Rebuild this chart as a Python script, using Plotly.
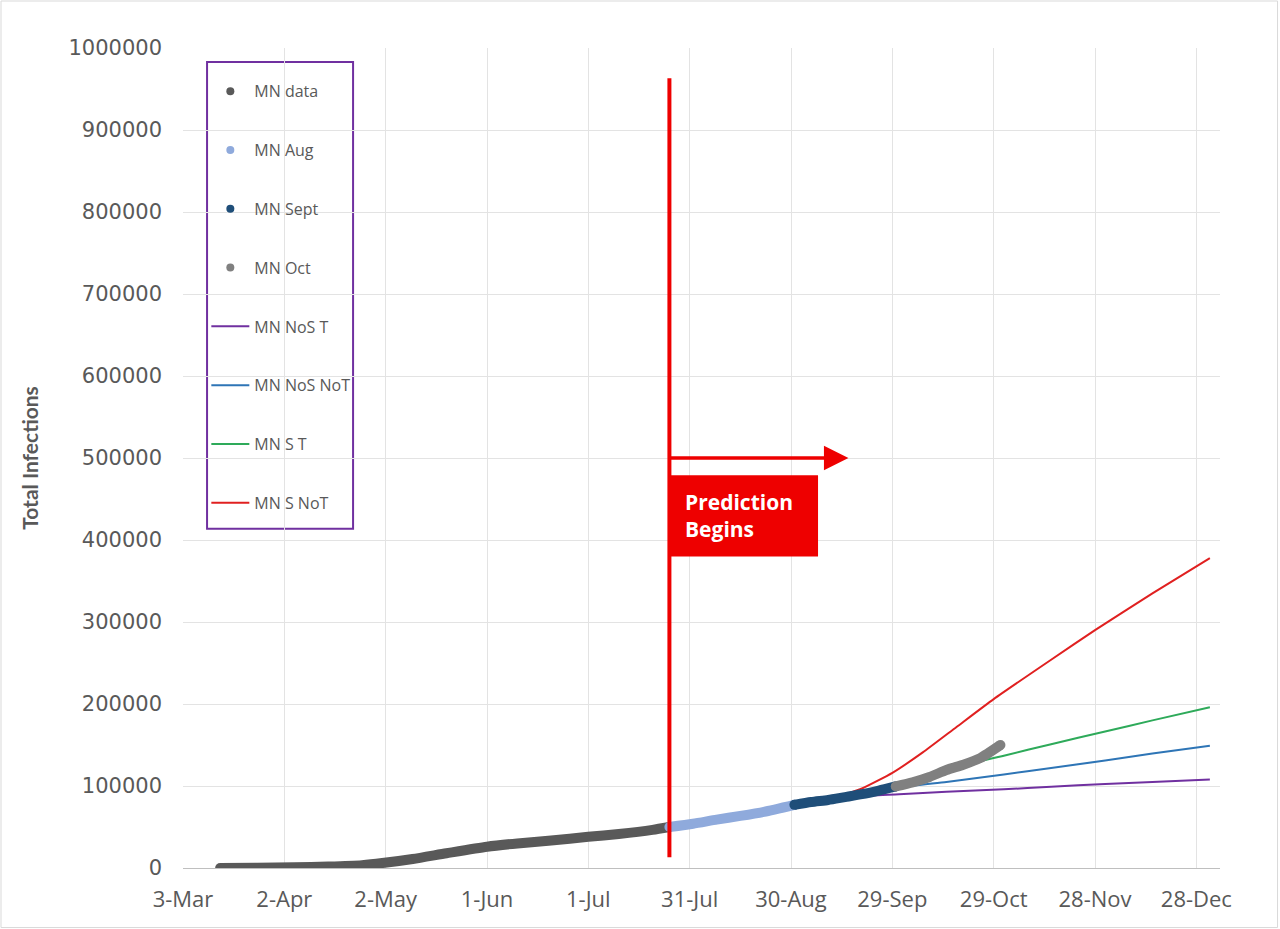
import plotly.graph_objects as go

# ---------------- data ----------------
data_dates = ["2020-03-14", "2020-03-25", "2020-04-05", "2020-04-15", "2020-04-25", "2020-05-01",
              "2020-05-10", "2020-05-20", "2020-06-01", "2020-06-10", "2020-06-20", "2020-07-01",
              "2020-07-10", "2020-07-20", "2020-07-25"]
data_vals = [0, 300, 800, 1800, 3500, 6000, 11000, 18000, 26000, 30000, 33500, 38000, 41500, 46500, 50000]

aug_dates = ["2020-07-25", "2020-08-01", "2020-08-08", "2020-08-15", "2020-08-22", "2020-08-31"]
aug_vals = [50000, 54000, 59000, 63500, 68500, 77000]

sept_dates = ["2020-08-31", "2020-09-05", "2020-09-10", "2020-09-15", "2020-09-20", "2020-09-25", "2020-09-30"]
sept_vals = [77000, 80500, 83000, 86500, 90000, 94500, 99500]

oct_dates = ["2020-09-30", "2020-10-05", "2020-10-10", "2020-10-15", "2020-10-20", "2020-10-25", "2020-10-31"]
oct_vals = [99500, 104500, 111000, 119500, 126000, 134000, 150000]

nos_t_dates = ["2020-07-25", "2020-08-15", "2020-08-31", "2020-09-10", "2020-09-20", "2020-10-01",
               "2020-10-15", "2020-11-01", "2020-11-15", "2020-12-01", "2020-12-15", "2021-01-01"]
nos_t_vals = [50000, 63500, 77000, 83000, 88000, 90000, 93000, 96000, 99000, 102500, 105000, 108000]

nos_not_dates = ["2020-07-25", "2020-08-15", "2020-08-31", "2020-09-10", "2020-09-20", "2020-10-01",
                 "2020-10-15", "2020-11-01", "2020-11-15", "2020-12-01", "2020-12-15", "2021-01-01"]
nos_not_vals = [50000, 63500, 77000, 83000, 90000, 98000, 105000, 114000, 122000, 131000, 139500, 149000]

s_t_dates = ["2020-07-25", "2020-08-15", "2020-08-31", "2020-09-10", "2020-09-20", "2020-10-01",
             "2020-10-15", "2020-10-25", "2020-11-01", "2020-11-15", "2020-12-01", "2020-12-15", "2021-01-01"]
s_t_vals = [50000, 63500, 77000, 83000, 90500, 100500, 117000, 130000, 137000, 151000, 166500, 180000, 196000]

s_not_dates = ["2020-07-25", "2020-08-15", "2020-08-31", "2020-09-10", "2020-09-20", "2020-09-29",
               "2020-10-08", "2020-10-18", "2020-10-29", "2020-11-15", "2020-11-28", "2020-12-15", "2021-01-01"]
s_not_vals = [50000, 63500, 77000, 83500, 97000, 116000, 141000, 172000, 206000, 254000, 290000, 335000, 378000]

tick_start = "2020-03-03"
x_range = ["2020-03-03", "2021-01-04"]
y_range = [0, 1000000]

prediction_date = "2020-07-25"
arrow_end_date = "2020-09-16"
box_end_date = "2020-09-07"

# ---------------- styles ----------------
TXT = "#595959"
RED = "#EE0000"
C_DATA = "#595959"
C_AUG = "#8FAADC"
C_SEPT = "#1F4E79"
C_OCT = "#808080"
C_NOST = "#7030A0"
C_NOSNOT = "#2E75B6"
C_ST = "#2EAA5A"
C_SNOT = "#E02020"

fig = go.Figure()

# model lines (drawn under data)
models = [
    ("MN NoS T", nos_t_dates, nos_t_vals, C_NOST, 5),
    ("MN NoS NoT", nos_not_dates, nos_not_vals, C_NOSNOT, 6),
    ("MN S T", s_t_dates, s_t_vals, C_ST, 7),
    ("MN S NoT", s_not_dates, s_not_vals, C_SNOT, 8),
]
for name, xs, ys, col, rank in models:
    fig.add_trace(go.Scatter(x=xs, y=ys, mode="lines", name=name,
                             line=dict(color=col, width=2, shape="spline", smoothing=0.5),
                             legendgroup=name, legendrank=rank, showlegend=True))

# observed data as thick lines
obs = [
    ("MN data", data_dates, data_vals, C_DATA, 1),
    ("MN Aug", aug_dates, aug_vals, C_AUG, 2),
    ("MN Sept", sept_dates, sept_vals, C_SEPT, 3),
    ("MN Oct", oct_dates, oct_vals, C_OCT, 4),
]
for name, xs, ys, col, rank in obs:
    fig.add_trace(go.Scatter(x=xs, y=ys, mode="lines", name=name,
                             line=dict(color=col, width=10, shape="spline", smoothing=0.6),
                             legendgroup=name, showlegend=False, hoverinfo="x+y"))
    # rounded ends
    fig.add_trace(go.Scatter(x=[xs[0], xs[-1]], y=[ys[0], ys[-1]], mode="markers",
                             marker=dict(color=col, size=10), legendgroup=name,
                             showlegend=False, hoverinfo="skip"))
    # legend entry
    fig.add_trace(go.Scatter(x=[None], y=[None], mode="markers", name=name,
                             marker=dict(color=col, size=8),
                             legendgroup=name, legendrank=rank, showlegend=True))

# ---------------- decorations ----------------
shapes = [
    # outer chart border
    dict(type="rect", xref="paper", yref="paper", x0=-0.1755, x1=1.0555, y0=-0.0726, y1=1.0573,
         line=dict(color="#D9D9D9", width=1), fillcolor="rgba(0,0,0,0)", layer="below"),
    # legend box
    dict(type="rect", xref="paper", yref="paper", x0=0.0232, x1=0.164, y0=0.4138, y1=0.983,
         line=dict(color="#7030A0", width=2), fillcolor="white", layer="below"),
    # prediction vertical line
    dict(type="line", xref="x", yref="y", x0=prediction_date, x1=prediction_date,
         y0=13000, y1=963000, line=dict(color=RED, width=4)),
    # prediction box
    dict(type="rect", xref="x", yref="y", x0=prediction_date, x1=box_end_date,
         y0=380000, y1=479000, line=dict(color=RED, width=0), fillcolor=RED),
]

annotations = [
    dict(x=arrow_end_date, y=500000, ax=prediction_date, ay=500000, xref="x", yref="y",
         axref="x", ayref="y", showarrow=True, arrowhead=2, arrowsize=1.4, arrowwidth=3.5,
         arrowcolor=RED, text=""),
    dict(x="2020-07-29", y=430000, xref="x", yref="y", xanchor="left", yanchor="middle",
         align="left", showarrow=False, text="<b>Prediction</b><br><b>Begins</b>",
         font=dict(family="Open Sans", size=21, color="white")),
]

fig.update_layout(
    width=1280, height=929, autosize=False,
    margin=dict(l=183, r=60, t=48, b=61),
    paper_bgcolor="white", plot_bgcolor="white",
    shapes=shapes, annotations=annotations,
    showlegend=True,
    legend=dict(x=0.0225, y=0.968, xanchor="left", yanchor="top",
                bgcolor="rgba(0,0,0,0)", borderwidth=0,
                font=dict(family="Open Sans", size=16, color=TXT),
                itemwidth=38, tracegroupgap=35, traceorder="grouped"),
    xaxis=dict(type="date", range=x_range, tick0=tick_start, dtick=30 * 86400000,
               tickformat="%-d-%b", showgrid=True, gridcolor="#E3E3E3", gridwidth=1,
               showline=True, linecolor="#BFBFBF", linewidth=1, ticks="",
               ticklabelstandoff=12,
               tickfont=dict(family="Open Sans", size=22, color=TXT), zeroline=False),
    yaxis=dict(range=y_range, dtick=100000, tickformat="d", showgrid=True,
               gridcolor="#E3E3E3", gridwidth=1, zeroline=False, showline=False, ticks="",
               ticklabelstandoff=20,
               tickfont=dict(family="DejaVu Sans", size=21, color=TXT),
               title=dict(text="<b>Total Infections</b>", standoff=24,
                          font=dict(family="Lato", size=21, color=TXT))),
)

fig.write_html("out.html", config={"displayModeBar": False},
               post_script="document.body.style.margin='0px';")
